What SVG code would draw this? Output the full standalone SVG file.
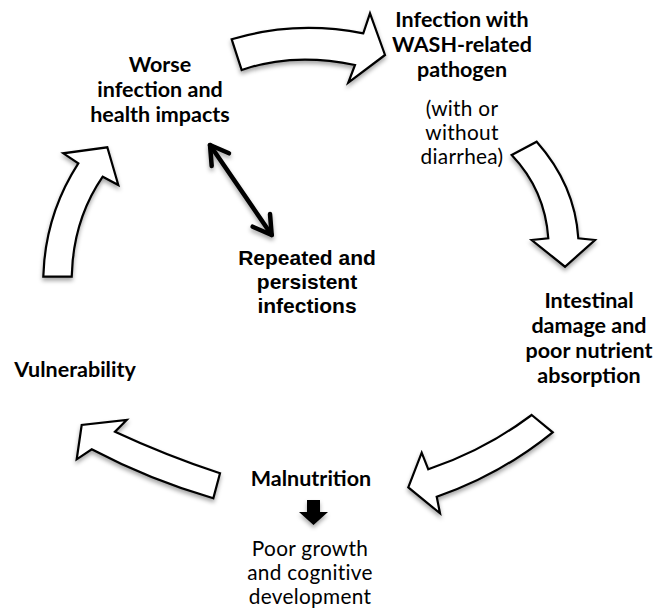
<svg xmlns="http://www.w3.org/2000/svg" width="658" height="614" viewBox="0 0 658 614">
<defs>
<filter id="sh" x="-20%" y="-20%" width="140%" height="150%">
<feDropShadow dx="0" dy="3" stdDeviation="2" flood-color="#000" flood-opacity="0.35"/>
</filter>
<style>
.blk{fill:#fff;stroke:#000;stroke-width:2.2;stroke-linejoin:miter;filter:url(#sh)}
.b{font-family:Lato,"Open Sans","Liberation Sans",sans-serif;font-weight:bold;font-size:21.5px;fill:#000;text-anchor:middle}
.n{font-family:Lato,"Open Sans","Liberation Sans",sans-serif;font-size:20.8px;letter-spacing:0.3px;fill:#000;text-anchor:middle}
.a{font-family:"Liberation Sans",Arial,sans-serif;font-weight:bold;font-size:21px;fill:#000;text-anchor:middle}
.dbl{fill:none;stroke:#000;stroke-width:4.5;stroke-linecap:round;stroke-linejoin:round;filter:url(#sh)}
</style>
</defs>
<g id="connectors">
<path id="arrow-top" class="blk" d="M231.7,39.3 L241.7,70 Q293,52 355,65 L348.3,82.7 L385,55 L370,13.3 L363.3,33.3 Q295,20 231.7,39.3 Z"/>
<path id="arrow-right" class="blk" d="M511.7,155 L536.7,141.7 Q575,185 578.3,238.3 L595,240 L565,266.7 L531.7,240 L548.3,238.3 Q545,190 511.7,155 Z"/>
<path id="arrow-bottom-right" class="blk" d="M531.7,415 L552.7,432.3 Q500,475 436.7,496.7 L440,513.3 L408.3,487.3 L421.7,452.7 L428.3,469.3 Q485,450 531.7,415 Z"/>
<path id="arrow-bottom-left" class="blk" d="M220,473.3 L213.3,498.3 Q150,480 91.7,449.3 L76.7,459.3 L81.7,425 L126.7,420 L115,431.7 Q165,455 220,473.3 Z"/>
<path id="arrow-left" class="blk" d="M43.3,276.7 L71.7,276.7 Q73,220 102.7,176.7 L118.3,185 L107.3,147.3 L63.3,153.3 L78.3,163.3 Q45,215 43.3,276.7 Z"/>
<g id="arrow-double" class="dbl">
<path d="M210,145 L271.7,235"/>
<path d="M211.7,166 L210,145 L229,153.3"/>
<path d="M252.7,226.7 L271.7,235 L270,214"/>
</g>
<path id="arrow-small" d="M307,500 L320,500 L320,512 L328,512 L313.5,525 L299,512 L307,512 Z" fill="#000" filter="url(#sh)"/>
</g>
<g id="node-infection">
<text class="b" x="462" y="27">Infection with</text>
<text class="b" x="462" y="52">WASH-related</text>
<text class="b" x="462" y="77">pathogen</text>
<text class="n" x="462" y="116">(with or</text>
<text class="n" x="462" y="140">without</text>
<text class="n" x="462" y="164">diarrhea)</text>
</g>
<g id="node-worse">
<text class="b" x="160" y="72">Worse</text>
<text class="b" x="160" y="97">infection and</text>
<text class="b" x="160" y="122">health impacts</text>
</g>
<g id="node-repeated">
<text class="a" x="307" y="265">Repeated and</text>
<text class="a" x="307" y="289">persistent</text>
<text class="a" x="307" y="313">infections</text>
</g>
<g id="node-intestinal">
<text class="b" x="589" y="308">Intestinal</text>
<text class="b" x="589" y="333">damage and</text>
<text class="b" x="589" y="358">poor nutrient</text>
<text class="b" x="589" y="383">absorption</text>
</g>
<g id="node-vulnerability">
<text class="b" x="75" y="377">Vulnerability</text>
</g>
<g id="node-malnutrition">
<text class="b" x="311" y="486">Malnutrition</text>
<text class="n" x="310" y="556">Poor growth</text>
<text class="n" x="310" y="580">and cognitive</text>
<text class="n" x="310" y="604">development</text>
</g>
</svg>
